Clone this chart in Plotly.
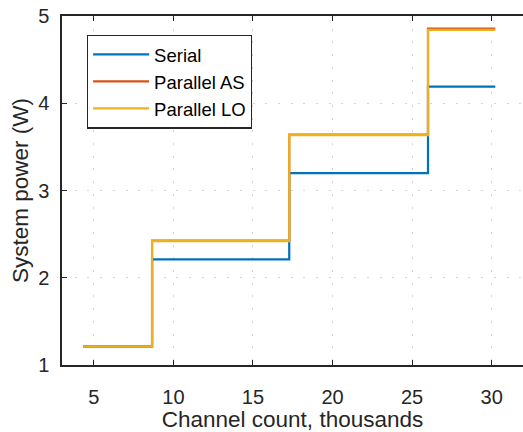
import plotly.graph_objects as go

# Channel count (thousands) at step breakpoints
x_steps = [4.33, 8.66, 17.28, 26.0, 30.23]
serial = [1.21, 2.21, 3.20, 4.19, 4.19]
parallel_as = [1.21, 2.425, 3.64, 4.855, 4.855]
parallel_lo = [1.21, 2.42, 3.635, 4.84, 4.84]

names = ["Serial", "Parallel AS", "Parallel LO"]
series = [serial, parallel_as, parallel_lo]
colors = ["#0072BD", "#D95319", "#EDB120"]

x_ticks = [5, 10, 15, 20, 25, 30]
y_ticks = [1, 2, 3, 4, 5]

FONT = "Liberation Sans, Arial, sans-serif"
AX = "#262626"
GRID = "#d4d4d4"

fig = go.Figure()
for name, ys, c in zip(names, series, colors):
    fig.add_trace(go.Scatter(x=x_steps, y=ys, mode="lines", name=name,
                             line=dict(color=c, width=2.2, shape="hv")))

fig.update_layout(
    width=523, height=432,
    margin=dict(l=62, r=0, t=16, b=67),
    paper_bgcolor="white", plot_bgcolor="white",
    font=dict(family=FONT, size=20, color=AX),
    showlegend=True,
    legend=dict(x=0.054, y=0.812, xanchor="left", yanchor="middle",
                bgcolor="white", bordercolor=AX, borderwidth=1.2,
                font=dict(size=18.5, color="#000000"),
                tracegroupgap=0, itemwidth=56),
)
fig.update_xaxes(range=[3, 31.97], tickvals=x_ticks, ticktext=[str(v) for v in x_ticks],
                 ticks="inside", ticklen=5, tickcolor=AX, tickwidth=1.2,
                 showline=True, linecolor=AX, linewidth=1.5, mirror="ticks",
                 showgrid=True, gridcolor=GRID, griddash="2px,10.7px", gridwidth=1.2,
                 zeroline=False, ticklabelstandoff=13, automargin=True,
                 title=dict(text="Channel count, thousands", font=dict(size=22.5, color=AX), standoff=9))
fig.update_yaxes(range=[1, 5], tickvals=y_ticks, ticktext=[str(v) for v in y_ticks],
                 ticks="inside", ticklen=5, tickcolor=AX, tickwidth=1.2,
                 showline=True, linecolor=AX, linewidth=1.5, mirror=False,
                 showgrid=True, gridcolor=GRID, griddash="2px,10.7px", gridwidth=1.2,
                 zeroline=False, ticklabelstandoff=7, automargin=True,
                 title=dict(text="System power (W)", font=dict(size=22.5, color=AX), standoff=3))

fig.write_html("out.html", config={"displayModeBar": False},
               post_script="document.body.style.margin='0';")
